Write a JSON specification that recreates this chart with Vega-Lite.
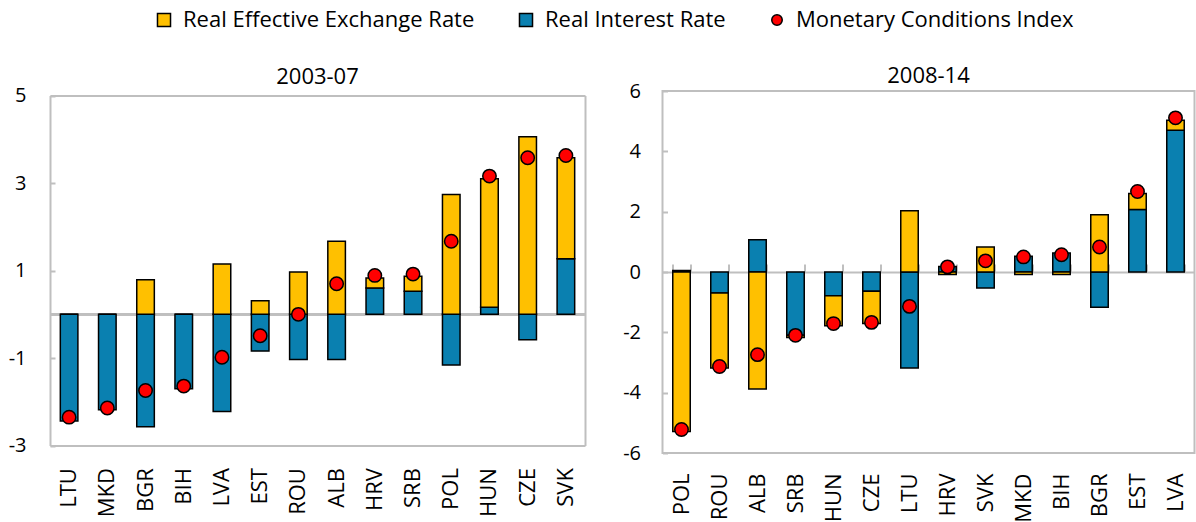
{
  "$schema": "https://vega.github.io/schema/vega-lite/v6.json",
  "padding": {"left": 8, "top": 9, "right": 0, "bottom": 0},
  "background": "white",
  "config": {
    "font": "Open Sans",
    "view": {"stroke": null},
    "axis": {"labelFont": "Open Sans", "labelColor": "#000000", "domainColor": "#bfbfbf", "domainWidth": 2, "tickColor": "#bfbfbf", "tickWidth": 2, "grid": false, "title": null},
    "title": {"font": "Open Sans", "fontSize": 22, "fontWeight": "normal", "color": "#000000"},
    "legend": {"labelFont": "Open Sans"}
  },
  "datasets": {
    "bars1": [
      {"country": "LTU", "series": "Real Interest Rate", "ord": 0, "value": -2.44},
      {"country": "LTU", "series": "Real Effective Exchange Rate", "ord": 1, "value": 0.0},
      {"country": "MKD", "series": "Real Interest Rate", "ord": 0, "value": -2.18},
      {"country": "MKD", "series": "Real Effective Exchange Rate", "ord": 1, "value": 0.0},
      {"country": "BGR", "series": "Real Interest Rate", "ord": 0, "value": -2.57},
      {"country": "BGR", "series": "Real Effective Exchange Rate", "ord": 1, "value": 0.79},
      {"country": "BIH", "series": "Real Interest Rate", "ord": 0, "value": -1.70},
      {"country": "BIH", "series": "Real Effective Exchange Rate", "ord": 1, "value": 0.0},
      {"country": "LVA", "series": "Real Interest Rate", "ord": 0, "value": -2.22},
      {"country": "LVA", "series": "Real Effective Exchange Rate", "ord": 1, "value": 1.15},
      {"country": "EST", "series": "Real Interest Rate", "ord": 0, "value": -0.84},
      {"country": "EST", "series": "Real Effective Exchange Rate", "ord": 1, "value": 0.31},
      {"country": "ROU", "series": "Real Interest Rate", "ord": 0, "value": -1.03},
      {"country": "ROU", "series": "Real Effective Exchange Rate", "ord": 1, "value": 0.97},
      {"country": "ALB", "series": "Real Interest Rate", "ord": 0, "value": -1.03},
      {"country": "ALB", "series": "Real Effective Exchange Rate", "ord": 1, "value": 1.67},
      {"country": "HRV", "series": "Real Interest Rate", "ord": 0, "value": 0.60},
      {"country": "HRV", "series": "Real Effective Exchange Rate", "ord": 1, "value": 0.23},
      {"country": "SRB", "series": "Real Interest Rate", "ord": 0, "value": 0.53},
      {"country": "SRB", "series": "Real Effective Exchange Rate", "ord": 1, "value": 0.34},
      {"country": "POL", "series": "Real Interest Rate", "ord": 0, "value": -1.16},
      {"country": "POL", "series": "Real Effective Exchange Rate", "ord": 1, "value": 2.74},
      {"country": "HUN", "series": "Real Interest Rate", "ord": 0, "value": 0.16},
      {"country": "HUN", "series": "Real Effective Exchange Rate", "ord": 1, "value": 2.94},
      {"country": "CZE", "series": "Real Interest Rate", "ord": 0, "value": -0.58},
      {"country": "CZE", "series": "Real Effective Exchange Rate", "ord": 1, "value": 4.06},
      {"country": "SVK", "series": "Real Interest Rate", "ord": 0, "value": 1.27},
      {"country": "SVK", "series": "Real Effective Exchange Rate", "ord": 1, "value": 2.31}
    ],
    "dots1": [
      {"country": "LTU", "mci": -2.35},
      {"country": "MKD", "mci": -2.14},
      {"country": "BGR", "mci": -1.74},
      {"country": "BIH", "mci": -1.64},
      {"country": "LVA", "mci": -0.98},
      {"country": "EST", "mci": -0.49},
      {"country": "ROU", "mci": 0.0},
      {"country": "ALB", "mci": 0.70},
      {"country": "HRV", "mci": 0.89},
      {"country": "SRB", "mci": 0.92},
      {"country": "POL", "mci": 1.67},
      {"country": "HUN", "mci": 3.16},
      {"country": "CZE", "mci": 3.58},
      {"country": "SVK", "mci": 3.63}
    ],
    "bars2": [
      {"country": "POL", "series": "Real Interest Rate", "ord": 0, "value": 0.05},
      {"country": "POL", "series": "Real Effective Exchange Rate", "ord": 1, "value": -5.29},
      {"country": "ROU", "series": "Real Interest Rate", "ord": 0, "value": -0.70},
      {"country": "ROU", "series": "Real Effective Exchange Rate", "ord": 1, "value": -2.48},
      {"country": "ALB", "series": "Real Interest Rate", "ord": 0, "value": 1.07},
      {"country": "ALB", "series": "Real Effective Exchange Rate", "ord": 1, "value": -3.88},
      {"country": "SRB", "series": "Real Interest Rate", "ord": 0, "value": -2.10},
      {"country": "SRB", "series": "Real Effective Exchange Rate", "ord": 1, "value": -0.07},
      {"country": "HUN", "series": "Real Interest Rate", "ord": 0, "value": -0.79},
      {"country": "HUN", "series": "Real Effective Exchange Rate", "ord": 1, "value": -0.99},
      {"country": "CZE", "series": "Real Interest Rate", "ord": 0, "value": -0.64},
      {"country": "CZE", "series": "Real Effective Exchange Rate", "ord": 1, "value": -1.07},
      {"country": "LTU", "series": "Real Interest Rate", "ord": 0, "value": -3.18},
      {"country": "LTU", "series": "Real Effective Exchange Rate", "ord": 1, "value": 2.03},
      {"country": "HRV", "series": "Real Interest Rate", "ord": 0, "value": 0.18},
      {"country": "HRV", "series": "Real Effective Exchange Rate", "ord": 1, "value": -0.08},
      {"country": "SVK", "series": "Real Interest Rate", "ord": 0, "value": -0.53},
      {"country": "SVK", "series": "Real Effective Exchange Rate", "ord": 1, "value": 0.83},
      {"country": "MKD", "series": "Real Interest Rate", "ord": 0, "value": 0.52},
      {"country": "MKD", "series": "Real Effective Exchange Rate", "ord": 1, "value": -0.08},
      {"country": "BIH", "series": "Real Interest Rate", "ord": 0, "value": 0.63},
      {"country": "BIH", "series": "Real Effective Exchange Rate", "ord": 1, "value": -0.08},
      {"country": "BGR", "series": "Real Interest Rate", "ord": 0, "value": -1.17},
      {"country": "BGR", "series": "Real Effective Exchange Rate", "ord": 1, "value": 1.90},
      {"country": "EST", "series": "Real Interest Rate", "ord": 0, "value": 2.07},
      {"country": "EST", "series": "Real Effective Exchange Rate", "ord": 1, "value": 0.53},
      {"country": "LVA", "series": "Real Interest Rate", "ord": 0, "value": 4.70},
      {"country": "LVA", "series": "Real Effective Exchange Rate", "ord": 1, "value": 0.33}
    ],
    "dots2": [
      {"country": "POL", "mci": -5.22},
      {"country": "ROU", "mci": -3.13},
      {"country": "ALB", "mci": -2.74},
      {"country": "SRB", "mci": -2.10},
      {"country": "HUN", "mci": -1.71},
      {"country": "CZE", "mci": -1.67},
      {"country": "LTU", "mci": -1.14},
      {"country": "HRV", "mci": 0.17},
      {"country": "SVK", "mci": 0.37},
      {"country": "MKD", "mci": 0.50},
      {"country": "BIH", "mci": 0.57},
      {"country": "BGR", "mci": 0.83},
      {"country": "EST", "mci": 2.67},
      {"country": "LVA", "mci": 5.11}
    ]
  },
  "spacing": 77.5,
  "bounds": "flush",
  "hconcat": [
    {
      "width": 535,
      "height": 354.6,
      "title": {"text": "2003-07", "offset": -3},
      "resolve": {"axis": {"x": "independent", "y": "independent"}},
      "layer": [
        {
          "data": {"name": "dots1"},
          "mark": {"type": "rule", "color": "#bfbfbf", "strokeWidth": 2},
          "encoding": {"y": {"datum": 0, "type": "quantitative", "axis": null}}
        },
        {
          "data": {"name": "bars1"},
          "mark": {"type": "bar", "stroke": "#000000", "strokeWidth": 1.5},
          "encoding": {
            "x": {"field": "country", "type": "nominal", "sort": ["LTU","MKD","BGR","BIH","LVA","EST","ROU","ALB","HRV","SRB","POL","HUN","CZE","SVK"],
                  "scale": {"paddingInner": 0.54, "paddingOuter": 0.27},
                  "axis": {"orient": "bottom", "labelAngle": -90, "labelFontSize": 22, "labelPadding": 22, "ticks": false, "domain": true, "title": null}},
            "y": {"field": "value", "type": "quantitative", "stack": "zero",
                  "scale": {"domain": [-3, 5], "range": [354.6, 4.6], "nice": false, "zero": false},
                  "axis": {"orient": "left", "values": [-3, -1, 1, 3, 5], "labelFontSize": 20, "tickSize": -5, "labelPadding": 29, "title": null,
                           "labelExpr": "datum.value < 0 ? '-' + abs(datum.value) : '' + datum.value"}},
            "fill": {"field": "series", "type": "nominal",
                     "scale": {"domain": ["Real Effective Exchange Rate", "Real Interest Rate", "Monetary Conditions Index"], "range": ["#FFC000", "#0A80B0", "#FF0000"]},
                     "legend": {"orient": "none", "legendX": 103, "legendY": -82, "direction": "horizontal", "title": null,
                                "labelFontSize": 22, "labelLimit": 500, "labelOffset": 8, "columnPadding": 40, "symbolSize": 170, "symbolType": "square",
                                "symbolStrokeColor": "#000000", "symbolStrokeWidth": 1.5,
                                "encode": {"symbols": {"update": {
                                  "shape": {"signal": "datum.value === 'Monetary Conditions Index' ? 'circle' : 'square'"},
                                  "size": {"signal": "datum.value === 'Monetary Conditions Index' ? 110 : 170"},
                                  "stroke": {"value": "#000000"},
                                  "strokeWidth": {"value": 1.5},
                                  "opacity": {"value": 1}}}}}},
            "order": {"field": "ord", "type": "quantitative"}
          }
        },
        {
          "data": {"name": "dots1"},
          "mark": {"type": "point", "shape": "circle", "filled": true, "stroke": "#000000", "strokeWidth": 1.5, "size": 180, "opacity": 1},
          "encoding": {
            "x": {"field": "country", "type": "nominal", "sort": ["LTU","MKD","BGR","BIH","LVA","EST","ROU","ALB","HRV","SRB","POL","HUN","CZE","SVK"],
                  "axis": {"orient": "top", "offset": -4.6, "labels": false, "ticks": false, "domain": true, "title": null}},
            "y": {"field": "mci", "type": "quantitative",
                  "axis": {"orient": "right", "labels": false, "ticks": false, "domain": true, "title": null}},
            "fill": {"datum": "Monetary Conditions Index"}
          }
        }
      ]
    },
    {
      "width": 532,
      "height": 362,
      "title": {"text": "2008-14", "offset": -7},
      "view": {"stroke": "#bfbfbf", "strokeWidth": 2},
      "resolve": {"axis": {"x": "independent", "y": "independent"}},
      "layer": [
        {
          "data": {"name": "bars2"},
          "mark": {"type": "bar", "stroke": "#000000", "strokeWidth": 1.5},
          "encoding": {
            "x": {"field": "country", "type": "nominal", "sort": ["POL","ROU","ALB","SRB","HUN","CZE","LTU","HRV","SVK","MKD","BIH","BGR","EST","LVA"],
                  "scale": {"paddingInner": 0.54, "paddingOuter": 0.27},
                  "axis": {"orient": "bottom", "labelAngle": -90, "labelFontSize": 22, "labelPadding": 20, "ticks": false, "domain": false, "title": null}},
            "y": {"field": "value", "type": "quantitative", "stack": "zero",
                  "scale": {"domain": [-6, 6], "nice": false, "zero": false},
                  "axis": {"orient": "left", "values": [-6, -4, -2, 0, 2, 4, 6], "labelFontSize": 20, "tickSize": -5, "labelPadding": 27, "domain": false, "title": null,
                           "labelExpr": "datum.value < 0 ? '-' + abs(datum.value) : '' + datum.value"}},
            "fill": {"field": "series", "type": "nominal"},
            "order": {"field": "ord", "type": "quantitative"}
          }
        },
        {
          "data": {"name": "dots2"},
          "mark": {"type": "point", "shape": "circle", "filled": true, "stroke": "#000000", "strokeWidth": 1.5, "size": 180, "opacity": 1},
          "encoding": {
            "x": {"field": "country", "type": "nominal", "sort": ["POL","ROU","ALB","SRB","HUN","CZE","LTU","HRV","SVK","MKD","BIH","BGR","EST","LVA"],
                  "axis": {"orient": "top", "offset": -181, "labels": false, "ticks": true, "tickBand": "extent", "tickSize": 8, "domain": true, "title": null}},
            "y": {"field": "mci", "type": "quantitative", "axis": null},
            "fill": {"datum": "Monetary Conditions Index"}
          }
        }
      ]
    }
  ]
}
